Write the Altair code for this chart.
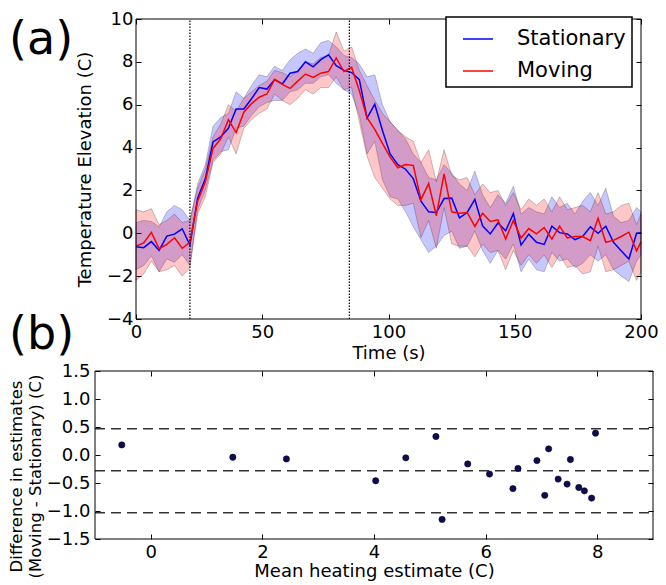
import altair as alt
import pandas as pd

# ---------------- data: panel (a) ----------------
time_s = [0.0, 3.05, 6.1, 9.15, 12.2, 15.25, 18.3, 21.35, 24.4, 27.45,
          30.5, 33.55, 36.6, 39.65, 42.7, 45.75, 48.8, 51.85, 54.9, 57.95,
          61.0, 64.05, 67.1, 70.15, 73.2, 76.25, 79.3, 82.35, 85.4, 88.45,
          91.5, 94.55, 97.6, 100.65, 103.7, 106.75, 109.8, 112.85, 115.9, 118.95,
          122.0, 125.05, 128.1, 131.15, 134.2, 137.25, 140.3, 143.35, 146.4, 149.45,
          152.5, 155.55, 158.6, 161.65, 164.7, 167.75, 170.8, 173.85, 176.9, 179.95,
          183.0, 186.05, 189.1, 192.15, 195.2, 198.25, 200.0]

stationary_mean = [-0.63, -0.67, -0.39, -0.80, -0.13, -0.04, 0.21, -0.55, 1.64, 2.54,
                   4.26, 4.50, 4.90, 5.80, 5.80, 6.28, 6.80, 6.73, 7.17, 6.97,
                   7.47, 7.55, 8.00, 7.77, 8.10, 8.33, 7.82, 7.60, 7.50, 7.17,
                   5.38, 6.02, 4.80, 3.70, 3.20, 2.99, 2.55, 1.50, 1.00, 0.97,
                   1.62, 1.64, 0.72, 0.97, 1.58, 0.35, -0.03, 0.48, 0.12, 0.92,
                   -0.55, -0.04, -0.42, -0.52, 0.33, 0.03, -0.03, -0.30, -0.15, 0.30,
                   0.00, 0.33, -0.42, -0.82, -1.20, 0.00, 0.03]
stationary_lo = [-1.70, -1.50, -1.05, -1.80, -1.20, -1.35, -1.00, -1.50, 1.10, 2.00,
                 3.40, 3.80, 3.90, 4.90, 5.00, 5.50, 5.90, 6.10, 6.20, 6.20,
                 6.60, 6.70, 7.00, 7.00, 7.30, 7.40, 7.00, 6.70, 6.50, 5.50,
                 3.70, 4.30, 2.50, 1.70, 1.60, 1.00, 0.30, -0.30, -0.90, -0.60,
                 -0.10, 0.10, -0.70, -0.60, 0.10, -0.80, -1.40, -0.80, -1.20, -0.50,
                 -1.80, -1.20, -1.70, -1.80, -0.90, -1.30, -1.20, -1.60, -1.40, -1.00,
                 -1.30, -1.00, -1.70, -2.00, -2.25, -1.30, -1.00]
stationary_hi = [0.50, 0.60, 0.55, 0.30, 1.00, 1.30, 1.10, 0.60, 2.30, 3.20,
                 5.00, 5.40, 5.60, 6.60, 6.30, 6.90, 7.40, 7.30, 7.80, 7.60,
                 8.10, 8.40, 8.60, 8.40, 8.90, 9.00, 8.70, 8.30, 8.20, 7.90,
                 7.30, 7.40, 6.00, 5.20, 4.80, 4.40, 3.70, 3.30, 2.60, 2.50,
                 3.20, 2.80, 2.30, 2.00, 2.90, 1.80, 1.20, 1.80, 1.40, 2.20,
                 0.90, 1.20, 1.00, 0.90, 1.70, 1.20, 1.40, 0.90, 1.50, 1.90,
                 1.30, 2.10, 0.80, 0.50, 0.60, 1.20, 1.00]

moving_mean = [-0.60, -0.45, 0.04, -0.72, -0.52, -0.21, -0.70, -0.42, 1.50, 2.40,
               3.96, 4.41, 5.30, 4.70, 5.65, 6.05, 6.35, 6.50, 7.18, 6.95,
               6.76, 7.10, 7.43, 7.27, 7.47, 7.55, 8.18, 7.55, 7.74, 6.65,
               5.40, 4.85, 4.20, 3.55, 3.06, 3.21, 3.17, 1.57, 2.32, 0.82,
               2.77, 1.00, 0.93, 0.97, 0.32, 0.93, 0.55, 0.63, -0.27, 0.60,
               -0.22, 0.22, -0.03, 0.27, -0.27, 0.33, -0.22, -0.15, -0.15, -0.34,
               0.70, -0.42, -0.33, -0.15, 0.05, -0.82, -0.40]
moving_lo = [-2.20, -1.90, -1.30, -1.80, -1.70, -1.50, -2.00, -1.60, 0.90, 1.70,
             3.30, 3.70, 4.50, 3.70, 4.90, 5.30, 5.60, 5.80, 6.50, 6.20,
             6.00, 6.30, 6.70, 6.50, 6.80, 6.80, 7.30, 6.70, 6.80, 5.20,
             3.60, 2.60, 2.10, 1.60, 1.30, 1.30, 1.40, -0.20, 0.60, -0.70,
             1.20, -0.50, -0.60, -0.60, -1.10, -0.50, -0.90, -0.80, -1.70, -0.80,
             -1.50, -1.00, -1.40, -1.00, -1.60, -1.00, -1.60, -1.50, -1.90, -1.80,
             -0.60, -1.80, -1.70, -1.50, -1.30, -2.20, -1.80]
moving_hi = [1.10, 1.00, 1.15, 0.40, 0.60, 0.90, 0.50, 0.60, 2.10, 3.00,
             4.50, 5.10, 6.00, 5.70, 6.30, 6.60, 6.90, 7.10, 7.60, 7.50,
             7.30, 7.60, 8.00, 7.90, 8.20, 8.30, 9.40, 8.50, 8.70, 7.60,
             6.90, 6.20, 5.60, 5.20, 4.80, 4.50, 4.30, 3.30, 3.90, 2.40,
             3.90, 2.70, 2.50, 2.60, 1.80, 2.30, 1.90, 2.00, 1.30, 1.90,
             1.10, 1.60, 1.30, 1.60, 1.00, 1.70, 1.10, 1.20, 1.30, 1.00,
             1.90, 0.90, 1.00, 1.30, 1.40, 0.40, 0.90]

event_times = [21.35, 84.5]
series_names = ["Stationary", "Moving"]
series_colors = ["#0000ff", "#ff0000"]
time_domain = [0, 200]
temp_domain = [-4, 10]
time_ticks = [0, 50, 100, 150, 200]
temp_ticks = [-4, -2, 0, 2, 4, 6, 8, 10]

# ---------------- data: panel (b) ----------------
mean_estimate = [-0.52, 1.47, 2.43, 4.03, 4.57, 5.11, 5.22, 5.68, 6.07, 6.49, 6.58,
                 6.92, 7.06, 7.13, 7.30, 7.46, 7.52, 7.67, 7.77, 7.90, 7.97]
diff_estimate = [0.18, -0.04, -0.07, -0.46, -0.05, 0.33, -1.15, -0.16, -0.34, -0.60, -0.24,
                 -0.10, -0.72, 0.11, -0.43, -0.52, -0.08, -0.58, -0.64, -0.77, 0.39]
agreement_limits = [0.47, -0.28, -1.03]
est_domain = [-1, 9]
diff_domain = [-1.5, 1.5]
est_ticks = [0, 2, 4, 6, 8]
diff_ticks = [-1.5, -1.0, -0.5, 0.0, 0.5, 1.0, 1.5]
panel_labels = ["(a)", "(b)"]

# ---------------- layout constants ----------------
FONT = "DejaVu Sans"
W, H = 558, 520
TICK = 5
TOP_X0, TOP_X1 = 41, 546
TOP_H = 300
BOT_Y0 = 352

top_x = alt.Scale(domain=time_domain, range=[TOP_X0, TOP_X1], nice=False, zero=False)
top_y = alt.Scale(domain=temp_domain, range=[TOP_H, 0], nice=False, zero=False)
bot_x = alt.Scale(domain=est_domain, range=[0, W], nice=False, zero=False)
bot_y = alt.Scale(domain=diff_domain, range=[H, BOT_Y0], nice=False, zero=False)


def make_axis(orient, values, offset, fmt=None, labels=True, title=None,
              label_pad=3, title_pad=3, **kw):
    props = dict(orient=orient, values=values, offset=offset, tickSize=TICK,
                 labels=labels, labelPadding=label_pad, labelFlush=False,
                 labelOverlap=False, domain=False, grid=False, ticks=True,
                 tickColor="black", tickWidth=1, title=title)
    if fmt:
        props["format"] = fmt
    if title:
        props["titlePadding"] = title_pad
    props.update(kw)
    return alt.Axis(**props)


# ---------------- panel (a) ----------------
wide = pd.DataFrame({
    "t": time_s,
    "s_lo": stationary_lo, "s_hi": stationary_hi,
    "m_lo": moving_lo, "m_hi": moving_hi,
})
long = pd.DataFrame({
    "t": time_s + time_s,
    "value": stationary_mean + moving_mean,
    "series": [series_names[0]] * len(time_s) + [series_names[1]] * len(time_s),
})

band_s = alt.Chart(wide).mark_area(
    fill=series_colors[0], fillOpacity=0.22, stroke="black", strokeOpacity=0.22, strokeWidth=1
).encode(
    x=alt.X("t:Q", scale=top_x,
            axis=make_axis("bottom", time_ticks, -(H - TOP_H + TICK), fmt="d",
                           title="Time (s)", label_pad=4, title_pad=3)),
    y=alt.Y("s_lo:Q", scale=top_y,
            axis=make_axis("left", temp_ticks, -(TOP_X0 + TICK), fmt="d",
                           title="Temperature Elevation (C)", label_pad=3, title_pad=12)),
    y2="s_hi:Q",
)

band_m = alt.Chart(wide).mark_area(
    fill=series_colors[1], fillOpacity=0.22, stroke="black", strokeOpacity=0.22, strokeWidth=1
).encode(
    x=alt.X("t:Q", scale=top_x, axis=None),
    y=alt.Y("m_lo:Q", scale=top_y, axis=None),
    y2="m_hi:Q",
)

lines = alt.Chart(long).mark_line(strokeWidth=1.5).encode(
    x=alt.X("t:Q", scale=top_x, axis=None),
    y=alt.Y("value:Q", scale=top_y, axis=None),
    color=alt.Color(
        "series:N",
        scale=alt.Scale(domain=series_names, range=series_colors),
        legend=alt.Legend(
            title=None, orient="none", legendX=351, legendY=-2,
            symbolType="stroke", symbolSize=900, symbolStrokeWidth=1.5,
            symbolOffset=10,
            labelFont=FONT, labelFontSize=21, labelColor="black",
            strokeColor="black", fillColor="white", padding=6,
            rowPadding=6, labelOffset=23, cornerRadius=0,
        ),
    ),
)

events = alt.Chart(pd.DataFrame({"t": event_times,
                                 "lo": [temp_domain[0]] * len(event_times),
                                 "hi": [temp_domain[1]] * len(event_times)})
                   ).mark_rule(color="black", strokeDash=[1.5, 1.5], strokeWidth=1.2).encode(
    x=alt.X("t:Q", scale=top_x, axis=None),
    y=alt.Y("lo:Q", scale=top_y, axis=None),
    y2="hi:Q",
)

frame_top = alt.Chart(pd.DataFrame({"x": [time_domain[0]], "x2": [time_domain[1]],
                                    "y": [temp_domain[0]], "y2": [temp_domain[1]]})
                      ).mark_rect(fillOpacity=0, stroke="black", strokeWidth=1).encode(
    x=alt.X("x:Q", scale=top_x, axis=make_axis("top", time_ticks, -TICK, labels=False)),
    x2="x2:Q",
    y=alt.Y("y:Q", scale=top_y, axis=make_axis("right", temp_ticks, -(W - TOP_X1 + TICK), labels=False)),
    y2="y2:Q",
)

top = alt.layer(band_s, band_m, lines, events, frame_top).resolve_axis(x="independent", y="independent")

# ---------------- panel (b) ----------------
pts = pd.DataFrame({"m": mean_estimate, "d": diff_estimate})
lim = pd.DataFrame({"lim": agreement_limits,
                    "x": [est_domain[0]] * len(agreement_limits),
                    "x2": [est_domain[1]] * len(agreement_limits)})

limits = alt.Chart(lim).mark_rule(color="#333333", strokeDash=[10, 6], strokeWidth=1.5).encode(
    x=alt.X("x:Q", scale=bot_x, axis=None),
    x2="x2:Q",
    y=alt.Y("lim:Q", scale=bot_y, axis=None),
)

points = alt.Chart(pts).mark_circle(size=40, fill="#0c0c58", stroke="black", strokeWidth=0.5, opacity=1).encode(
    x=alt.X("m:Q", scale=bot_x,
            axis=make_axis("bottom", est_ticks, -TICK, fmt="d",
                           title="Mean heating estimate (C)", label_pad=4, title_pad=1)),
    y=alt.Y("d:Q", scale=bot_y,
            axis=make_axis("left", diff_ticks, -TICK, fmt=".1f",
                           title=["Difference in estimates", "(Moving - Stationary) (C)"],
                           label_pad=5, title_pad=3, titleLineHeight=19, titleFontSize=16.5,
                           titleY=457)),
)

frame_bot = alt.Chart(pd.DataFrame({"x": [est_domain[0]], "x2": [est_domain[1]],
                                    "y": [diff_domain[0]], "y2": [diff_domain[1]]})
                      ).mark_rect(fillOpacity=0, stroke="black", strokeWidth=1).encode(
    x=alt.X("x:Q", scale=bot_x, axis=make_axis("top", est_ticks, -(BOT_Y0 + TICK), labels=False)),
    x2="x2:Q",
    y=alt.Y("y:Q", scale=bot_y, axis=make_axis("right", diff_ticks, -TICK, labels=False)),
    y2="y2:Q",
)

bottom = alt.layer(limits, points, frame_bot).resolve_axis(x="independent", y="independent")

# ---------------- panel labels ----------------
label_a = alt.Chart(pd.DataFrame({"label": [panel_labels[0]]})).mark_text(
    font=FONT, fontSize=46, align="left", baseline="alphabetic", color="black"
).encode(text="label:N", x=alt.value(-86), y=alt.value(35))

label_b = alt.Chart(pd.DataFrame({"label": [panel_labels[1]]})).mark_text(
    font=FONT, fontSize=46, align="left", baseline="alphabetic", color="black"
).encode(text="label:N", x=alt.value(-86), y=alt.value(330))

chart = alt.layer(top, bottom, label_a, label_b).resolve_scale(
    x="independent", y="independent"
).properties(
    width=W, height=H,
    autosize=alt.AutoSizeParams(type="none"),
    padding={"left": 87, "top": 11, "right": 5, "bottom": 44},
).configure_view(
    strokeWidth=0
).configure_axis(
    labelFont=FONT, titleFont=FONT, labelFontSize=18, titleFontSize=18,
    labelColor="black", titleColor="black", titleFontWeight="normal"
).configure_legend(
    strokeWidth=1.5
)

chart.save("out.html", embed_options={"renderer": "svg", "actions": False})
